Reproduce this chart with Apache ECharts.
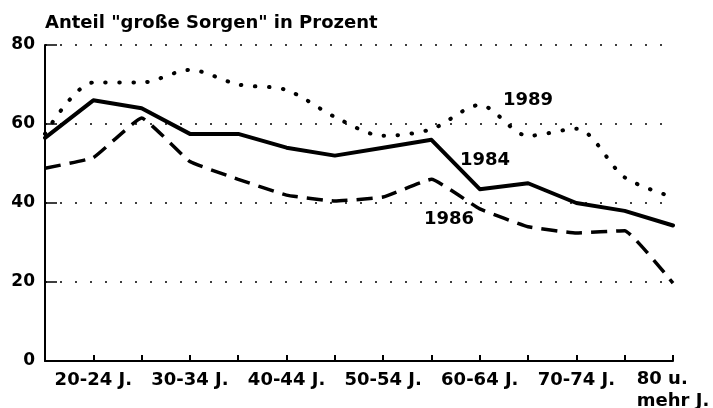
<!DOCTYPE html>
<html>
<head>
<meta charset="utf-8">
<script src="https://cdn.jsdelivr.net/npm/echarts@6/dist/echarts.min.js"></script>
<style>
  html, body { margin: 0; padding: 0; background: #fff; }
  #chart { width: 713px; height: 408px; }
</style>
</head>
<body>
<div id="chart"></div>
<script>
  // Altersgruppen (nur jede zweite beschriftet)
  var categories = ['15-19 J.', '20-24 J.', '25-29 J.', '30-34 J.', '35-39 J.', '40-44 J.', '45-49 J.',
    '50-54 J.', '55-59 J.', '60-64 J.', '65-69 J.', '70-74 J.', '75-79 J.', '80 u.\nmehr J.']
  var yTicks = [0, 20, 40, 60, 80]

  var data1984 = [56.5, 66, 64, 57.5, 57.5, 54, 52, 54, 56, 43.5, 45, 40, 38, 34.3]
  var data1986 = [48.8, 51.5, 61.5, 50.5, 46, 42, 40.5, 41.5, 46, 38.5, 34, 32.4, 33, 19.7]
  var data1989 = [57.5, 70.5, 70.5, 73.7, 70, 68.6, 61.8, 57, 58.7, 64.8, 57, 58.8, 46.5, 41.5]

  var font = 'DejaVu Sans'
  var chart = echarts.init(document.getElementById('chart'), null, { renderer: 'canvas' })

  chart.setOption({
    backgroundColor: '#fff',
    animation: false,
    title: {
      text: 'Anteil "große Sorgen" in Prozent',
      left: 40,
      top: 9,
      textStyle: { fontFamily: font, fontWeight: 'bold', fontSize: 18, color: '#000' }
    },
    grid: { left: 45, right: 40, top: 45, bottom: 47, containLabel: false, outerBoundsMode: 'none' },
    xAxis: {
      type: 'category',
      boundaryGap: false,
      data: categories,
      axisLine: { lineStyle: { color: '#000', width: 2 } },
      axisTick: { inside: true, length: 6, interval: 0, lineStyle: { color: '#000', width: 2 } },
      axisLabel: {
        interval: function(index) { return index % 2 === 1 },
        margin: 7,
        color: '#000',
        fontFamily: font,
        fontWeight: 'bold',
        fontSize: 18,
        lineHeight: 25,
        formatter: function(val) {
          if (val.indexOf('\n') >= 0) {
            var parts = val.split('\n')
            return '{l|' + parts[0] + '}\n{l|' + parts[1] + '}'
          }
          return val
        },
        rich: {
          l: { align: 'left', fontFamily: font, fontWeight: 'bold', fontSize: 18, color: '#000', lineHeight: 22 }
        }
      },
      splitLine: { show: false }
    },
    yAxis: {
      type: 'value',
      min: 0,
      max: 80,
      interval: 20,
      axisLine: { show: true, lineStyle: { color: '#000', width: 2 } },
      axisTick: { show: true, inside: true, length: 12, lineStyle: { color: '#000', width: 1.5 } },
      axisLabel: {
        margin: 10,
        color: '#000',
        fontFamily: font,
        fontWeight: 'bold',
        fontSize: 17,
        formatter: function(v) { return yTicks.indexOf(v) >= 0 ? String(v) : '' }
      },
      splitLine: {
        show: true,
        lineStyle: { color: '#000', width: 1.5, type: [2, 13] }
      }
    },
    graphic: [
      { type: 'text', left: 503, top: 91, style: { text: '1989', font: 'bold 18px ' + font, fill: '#000' } },
      { type: 'text', left: 460, top: 151, style: { text: '1984', font: 'bold 18px ' + font, fill: '#000' } },
      { type: 'text', left: 424, top: 210, style: { text: '1986', font: 'bold 18px ' + font, fill: '#000' } }
    ],
    series: [
      {
        name: '1989',
        type: 'line',
        data: data1989,
        smooth: 0.3,
        symbol: 'none',
        lineStyle: { color: '#000', width: 4, type: [0.5, 13.5], cap: 'round' }
      },
      {
        name: '1986',
        type: 'line',
        data: data1986,
        smooth: 0.1,
        symbol: 'none',
        lineStyle: { color: '#000', width: 3.5, type: [16, 9] }
      },
      {
        name: '1984',
        type: 'line',
        data: data1984,
        symbol: 'none',
        lineStyle: { color: '#000', width: 4, cap: 'round', join: 'round' }
      }
    ]
  })
</script>
</body>
</html>
